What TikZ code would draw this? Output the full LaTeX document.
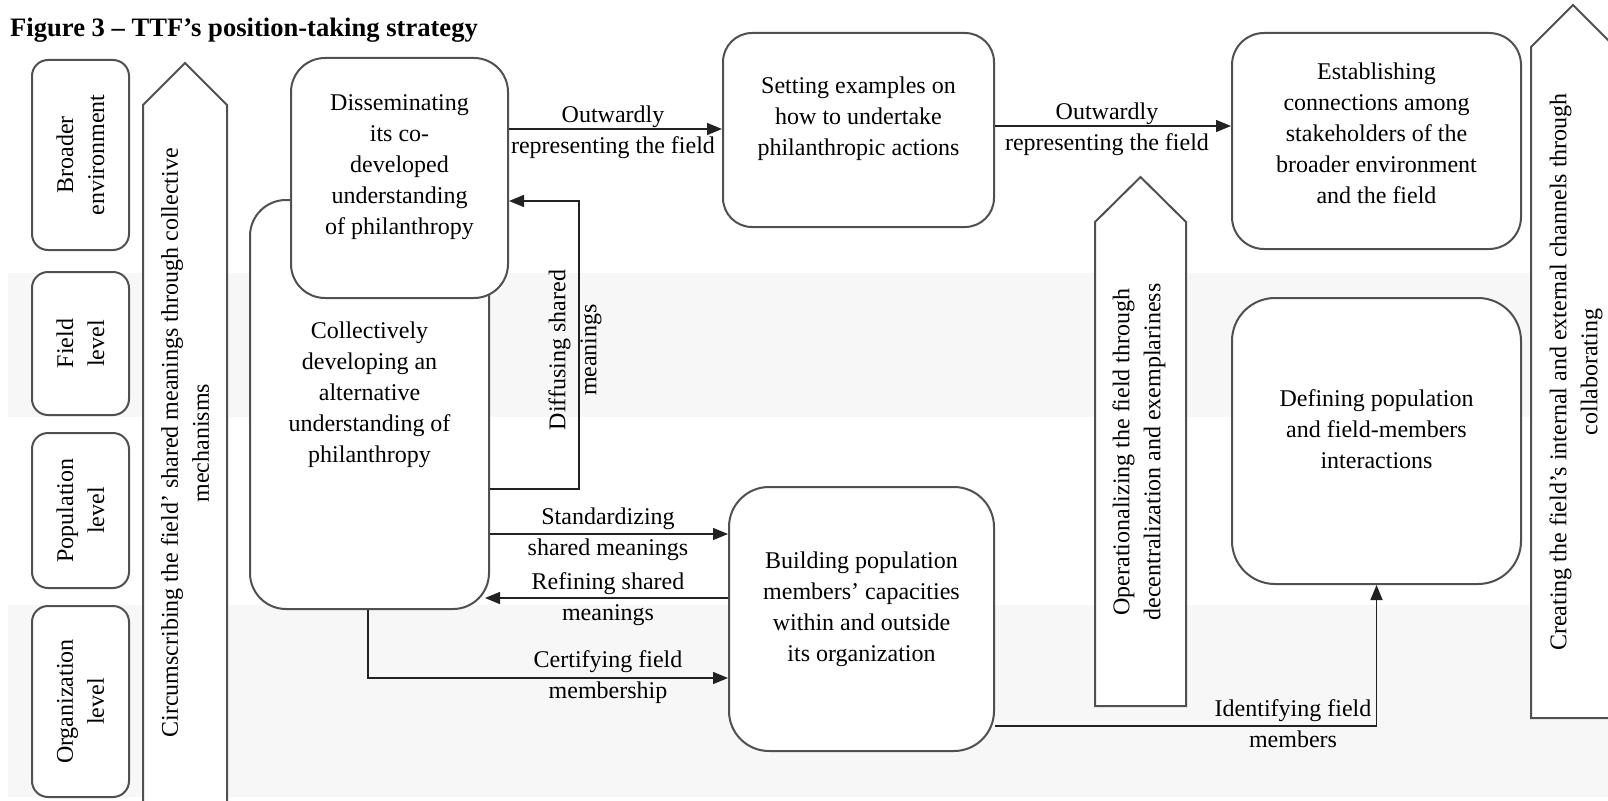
\documentclass[tikz,border=0pt]{standalone}
\usepackage{fontspec}
\setmainfont{Liberation Serif}
\usetikzlibrary{arrows.meta,calc}
\definecolor{boxline}{HTML}{505050}
\definecolor{band}{HTML}{F7F7F7}
\definecolor{wire}{HTML}{222222}
\begin{document}
\begin{tikzpicture}[x=1pt,y=-1pt,
  txt/.style={font=\fontsize{24}{31}\selectfont, align=center, inner sep=0pt},
  vtxt/.style={txt, rotate=90},
  rbox/.style={draw=boxline, line width=2pt, fill=white, rounded corners=#1, inner sep=0pt},
  conn/.style={line width=1.4pt, draw=wire, -{Triangle[length=15pt,width=12pt]}},
  bigarrow/.style={draw=boxline, line width=2pt, fill=white, line join=miter}
]
\useasboundingbox (0,0) rectangle (1608,800);
\clip (0,0) rectangle (1608,800);

% level bands
\fill[band] (8,273) rectangle (1608,417);
\fill[band] (8,605) rectangle (1608,797);

% title
\node[anchor=base west, inner sep=0pt, font=\fontsize{26.6}{31}\selectfont\bfseries] (title) at (10,37) {Figure 3 – TTF’s position-taking strategy};

% level boxes
\node[rbox=16, minimum width=97pt, minimum height=190pt] (lvB) at (80.5,155) {};
\node[vtxt] (lvBt) at (lvB.center) {Broader\\environment};
\node[rbox=16, minimum width=97pt, minimum height=143pt] (lvF) at (80.5,343.5) {};
\node[vtxt] (lvFt) at (lvF.center) {Field\\level};
\node[rbox=16, minimum width=97pt, minimum height=155pt] (lvP) at (80.5,510.5) {};
\node[vtxt] (lvPt) at (lvP.center) {Population\\level};
\node[rbox=16, minimum width=97pt, minimum height=191pt] (lvO) at (80.5,701.5) {};
\node[vtxt] (lvOt) at (lvO.center) {Organization\\level};

% broad upward arrows
\draw[bigarrow] (143,806) -- (143,105) -- (185,63) -- (227,105) -- (227,806) -- cycle;
\node[vtxt] (circ) at (185,443) {Circumscribing the field’ shared meanings through collective\\mechanisms};
\draw[bigarrow] (1095,706) -- (1095,222) -- (1140.5,177) -- (1186,222) -- (1186,706) -- cycle;
\node[vtxt] (oper) at (1139,452) {Operationalizing the field through\\decentralization and exemplariness};
\draw[bigarrow] (1531,718) -- (1531,47) -- (1573,5) -- (1615,47) -- (1615,718) -- cycle;
\node[vtxt] (creat) at (1576,372) {Creating the field’s internal and external channels through\\collaborating};

% process boxes
\node[rbox=36, minimum width=239pt, minimum height=409pt] (coll) at (369.5,404.5) {};
\node[txt] (collT) at ($(coll.center)+(0,-10)$) {Collectively\\developing an\\alternative\\understanding of\\philanthropy};
\node[rbox=34, minimum width=217pt, minimum height=240pt] (diss) at (399.5,178) {};
\node[txt] (dissT) at ($(diss.center)+(0,-11)$) {Disseminating\\its co-\\developed\\understanding\\of philanthropy};
\node[rbox=29, minimum width=271pt, minimum height=194pt] (sett) at (858.5,130) {};
\node[txt] (settT) at ($(sett.center)+(0,-11)$) {Setting examples on\\how to undertake\\philanthropic actions};
\node[rbox=32, minimum width=289pt, minimum height=216pt] (estb) at (1376.5,141) {};
\node[txt] (estbT) at ($(estb.center)+(0,-8)$) {Establishing\\connections among\\stakeholders of the\\broader environment\\and the field};
\node[rbox=40, minimum width=265pt, minimum height=264pt] (bld) at (861.5,619) {};
\node[txt] (bldT) at ($(bld.center)+(0,-10)$) {Building population\\members’ capacities\\within and outside\\its organization};
\node[rbox=43, minimum width=289pt, minimum height=286pt] (dfn) at (1376.5,441) {};
\node[txt] (dfnT) at ($(dfn.center)+(0,-12)$) {Defining population\\and field-members\\interactions};

% connectors
\coordinate (collRim) at (485,598);
\draw[conn] (diss.east |- 0,129) -- (sett.west |- 0,129);
\draw[conn] (sett.east |- 0,126) -- (estb.west |- 0,126);
\draw[conn] (coll.east |- 0,489) -- (579,489) -- (579,201) -- (diss.east |- 0,201);
\draw[conn] (coll.east |- 0,534) -- (bld.west |- 0,534);
\draw[conn] (bld.west |- 0,598) -- (collRim);
\draw[conn] (coll.south -| 368,0) -- (368,678) -- (bld.west |- 0,678);
\draw[conn] (bld.east |- 0,726) -| (dfn.south);

% connector labels
\node[txt] (lOut1) at (613,132) {Outwardly\\representing the field};
\node[txt] (lOut2) at (1107,129) {Outwardly\\representing the field};
\node[vtxt] (lDiff) at (575,350) {Diffusing shared\\meanings};
\node[txt] (lStd) at (608,534) {Standardizing\\shared meanings};
\node[txt] (lRef) at (608,599) {Refining shared\\meanings};
\node[txt] (lCert) at (608,677) {Certifying field\\membership};
\node[txt] (lIdent) at (1293,724) {Identifying field\\members};
\end{tikzpicture}
\end{document}
